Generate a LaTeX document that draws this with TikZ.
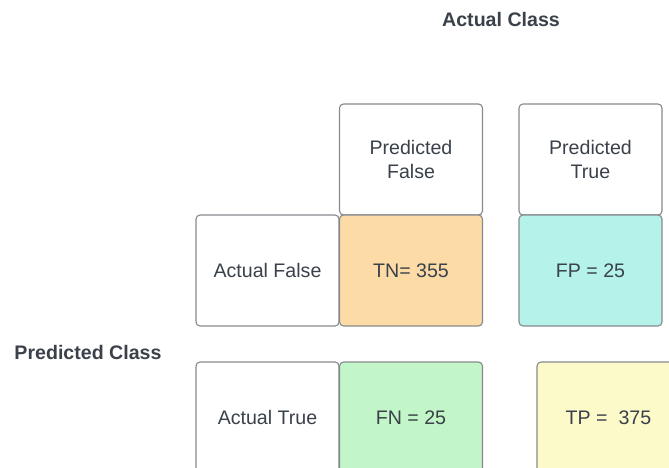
\documentclass[tikz,border=0pt]{standalone}
\usepackage{fontspec}
\setmainfont{Liberation Sans}
\usepackage{tikz}
\definecolor{txt}{HTML}{3A414A}
\definecolor{edge}{HTML}{868A8F}
\definecolor{tnfill}{HTML}{FCDBA7}
\definecolor{fpfill}{HTML}{B4F2EA}
\definecolor{fnfill}{HTML}{C2F5C7}
\definecolor{tpfill}{HTML}{FDFACA}

\begin{document}
\begin{tikzpicture}[x=1pt,y=-1pt,
  cell/.style={draw=edge,fill=white,line width=1.1pt,rounded corners=4pt,minimum width=143pt,minimum height=111pt,
    inner sep=0pt,align=center,text=txt,font=\fontsize{19.6}{24}\selectfont},
  heading/.style={text=txt,inner sep=0pt,font=\bfseries\fontsize{19.6}{24}\selectfont}]
 \useasboundingbox (0,0) rectangle (669,468);
 \clip (0,0) rectangle (669,468);
 % titles
 \node[heading] (actcls) at (501,19) {Actual Class};
 \node[heading] (predcls) at (88,352) {Predicted Class};
 % column heads
 \node[cell] (pfalse) at (411,159.5) {Predicted\\False};
 \node[cell] (ptrue) at (590.5,159.5) {Predicted\\True};
 % first row
 \node[cell] (afalse) at (267.5,270.5) {Actual False};
 \node[cell,fill=tnfill] (tn) at (411,270.5) {TN= 355};
 \node[cell,fill=fpfill] (fp) at (590.5,270.5) {FP = 25};
 % second row
 \node[cell] (atrue) at (267.5,417.5) {Actual True};
 \node[cell,fill=fnfill] (fn) at (411,417.5) {FN = 25};
 \node[cell,fill=tpfill] (tp) at (608.5,417.5) {TP =\ \ 375};
\end{tikzpicture}
\end{document}
